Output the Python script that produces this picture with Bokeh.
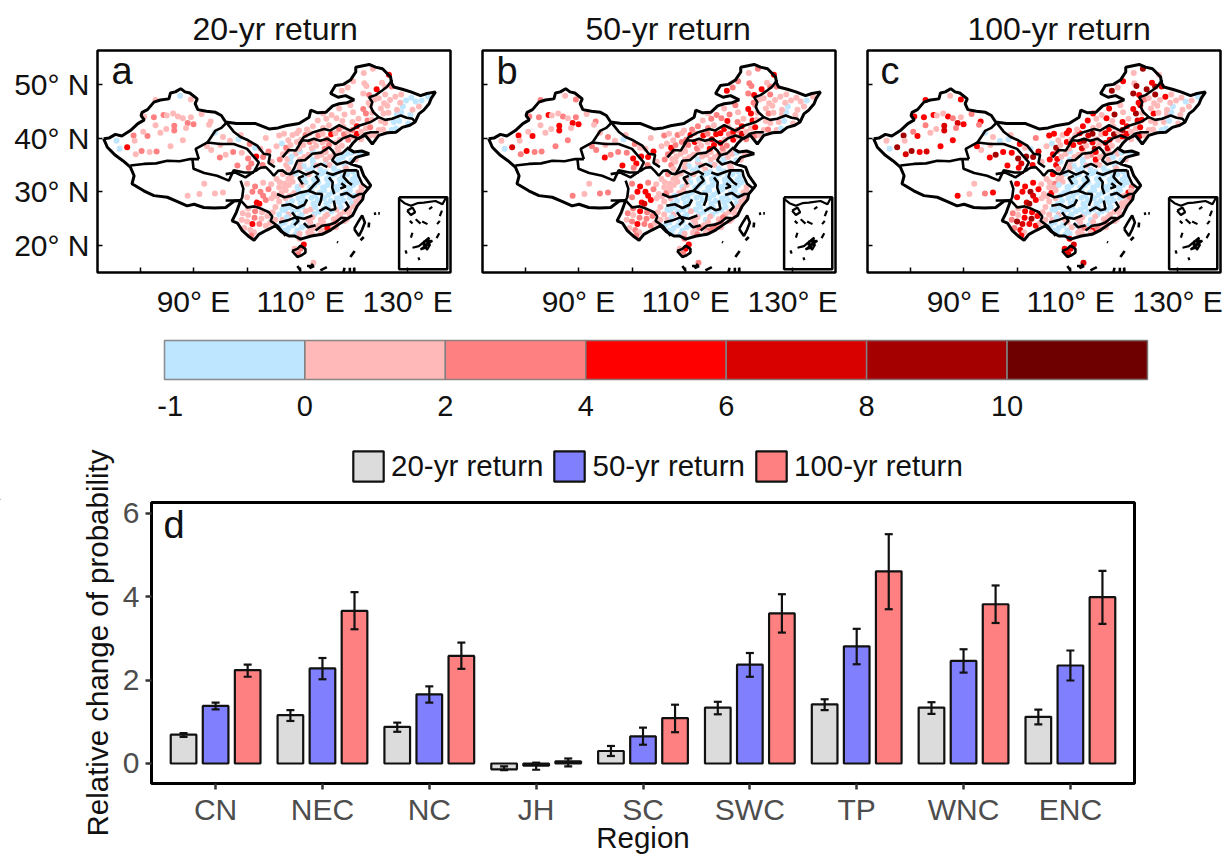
from bokeh.embed import file_html
from bokeh.resources import INLINE
from bokeh.layouts import column, row
from bokeh.models import ColumnDataSource, FixedTicker, Range1d, Label, Legend, LegendItem, Whisker, TeeHead
from bokeh.plotting import figure

FONT = "Liberation Sans"

# ------------------------------------------------------------ bar panel values
regions = ["CN", "NEC", "NC", "JH", "SC", "SWC", "TP", "WNC", "ENC"]
return_periods = ["20-yr return", "50-yr return", "100-yr return"]
bar_20 = [0.69, 1.16, 0.88, -0.14, 0.30, 1.34, 1.42, 1.34, 1.12]
low_20 = [0.64, 1.02, 0.76, -0.16, 0.18, 1.18, 1.28, 1.19, 0.94]
high_20 = [0.73, 1.28, 0.98, -0.07, 0.42, 1.48, 1.54, 1.47, 1.29]
bar_50 = [1.38, 2.28, 1.66, -0.05, 0.65, 2.37, 2.81, 2.46, 2.35]
low_50 = [1.30, 2.02, 1.46, -0.15, 0.45, 2.08, 2.38, 2.18, 1.99]
high_50 = [1.46, 2.53, 1.85, 0.02, 0.86, 2.65, 3.23, 2.74, 2.71]
bar_100 = [2.24, 3.66, 2.58, 0.05, 1.09, 3.60, 4.61, 3.82, 3.99]
low_100 = [2.08, 3.22, 2.27, -0.07, 0.75, 3.14, 3.70, 3.37, 3.35]
high_100 = [2.37, 4.11, 2.90, 0.12, 1.41, 4.06, 5.50, 4.27, 4.62]

# ------------------------------------------------------------ colour key
key_labels = ["-1", "0", "2", "4", "6", "8", "10"]
key_colors = ["#BFE6FF", "#FFB9B9", "#FF8080", "#FF0000", "#D90000", "#A50000", "#6E0000"]

# ------------------------------------------------------------ map lines (lon, lat)
outline = [(73.2,39.9),(74.2,40.0),(75.4,40.7),(76.6,40.4),(78.2,41.4),(79.6,42.7),(80.8,43.4),(80.2,44.2),(80.4,44.8),(81.4,45.3),(82.6,46.7),(83.8,47.1),(85.4,47.3),(85.7,48.4),(86.6,48.6),(87.6,49.2),(88.4,48.6),(89.3,48.4),(90.7,47.3),(90.3,46.4),(90.8,45.3),(92.4,45.0),(94.1,44.8),(95.2,44.2),(96,43),(98.0,42.7),(101.6,42.7),(104.1,41.7),(105.8,41.9),(107.2,42.3),(109.7,42.7),(111.6,43.9),(111.9,45.2),(113.2,44.7),(114.7,44.8),(116,46),(117.2,46.4),(118.7,46.6),(120,47.1),(118.4,47.9),(117,47.6),(115.6,48.3),(116.5,49.8),(118,50),(119.3,50.8),(120.3,52.3),(120.3,53.2),(122.8,53.7),(124,53.2),(125.3,52.9),(126.8,51.4),(127.0,50.2),(127.4,49.5),(129,49.1),(130.6,48.6),(132.4,47.9),(133.6,48.3),(135.2,48.6),(134.4,47.4),(134,46.4),(133,45.2),(132.1,44.5),(131.4,43),(130.4,42.4),(129,42),(127.8,41.1),(126.2,41),(124.6,40.5),(123.4,38.9),(122.1,40.5),(120.6,39.9),(119.8,39.1),(119,38),(120,37.4),(121.4,37.6),(122.8,37.1),(121,36.6),(120.3,36.4),(119.3,35.2),(121.2,34.6),(121.8,33),(123.1,31.2),(122.8,30.8),(121.8,29.6),(121.6,28.6),(120.6,27.4),(119.7,25.6),(118.4,24.8),(117.2,24),(115.6,22.9),(114,22.1),(112,21.8),(110,21.2),(108.9,21.8),(107.8,21.8),(106.4,22.6),(105.3,23.7),(103.7,22.9),(102.2,22.1),(101.3,21),(100.2,21.8),(99.1,22.8),(98.2,24.2),(97.2,24.6),(98.0,26.2),(98.8,28.4),(97.6,28.3),(96,27.1),(93.9,27.0),(91.9,27.1),(90.1,27.7),(88.8,27.4),(87,28.2),(85.1,29),(82.6,29.3),(80.7,30.2),(78.5,31.5),(78.9,33),(78.2,34.6),(76.8,35.8),(75.4,36.8),(73.9,38.3),(73.2,39.9)]
basin_lines = [
    [(78.2,34.9),(80.7,35.2),(83,35.3),(85.1,35.8),(87.4,35.7),(89.4,36.1),(91,36.1)],
    [(89.8,36.1),(90,34.3),(92,33.5),(94.4,33),(96.6,32.1),(97.5,34),(99.5,33.6),(101.3,33.6)],
    [(91,36.1),(90.4,38),(92.6,39.2),(95,38.9),(97.5,38.9),(100,38),(101.2,36.6),(102.2,35.5),(101.3,33.7),(101.6,34.4),(101.9,33.8)],
    [(92.6,39.2),(94.1,41.4),(95.2,41.9),(96.3,43)],
    [(96.3,42.7),(97.5,41.2),(98.8,40.2),(100.2,39.6),(101.9,38.6),(103.1,37.1),(104.3,36.9),(104,35.4),(105.2,34.6)],
    [(109.7,38.9),(110.6,40.2),(112.4,41.1),(114.4,41.7),(115.5,41.4),(117.2,42.4),(119.3,41.4),(120.9,42.3),(123.1,43),(124.6,43.9),(123.6,44.8),(123.1,45.8),(123.4,46.7),(122.8,47.6),(124,48),(125.3,48.9),(126.2,49.6),(127.1,50.8)],
    [(124.6,43.9),(125.8,43.4),(127.1,43.6),(128.7,44.2),(129.8,43.8),(130.9,43.6),(131.4,43)],
    [(106.6,36.4),(107.8,37.8),(109.1,37.7),(110.3,39.6),(111.4,39.5),(112.5,39.9),(113.6,39.5),(115,39.9),(116.5,38.9),(117.8,39.9),(119.3,40.5),(120.9,39.9),(122,40.8),(123.1,41.1),(124.6,41.1)],
    [(108.1,33.3),(108.8,34.4),(109.4,35.8),(110.8,35.9),(112.2,37.1),(113.8,37.3),(115.3,38.3),(116,37.6),(116.5,36.8),(117.8,37.2),(119,38.3)],
    [(116.5,36.8),(115.9,35.9),(116.8,35.1),(118.4,35.6),(119.3,35.2),(120,35.9)],
    [(96,33.3),(97.8,33.6),(99.7,32.7),(101.6,34),(102.6,34.5),(103.5,34.6),(104.3,33.8),(105,33),(105.8,33.9),(106.6,34),(107.4,33.4),(108.1,33.3),(109.6,33.9),(111,33.2),(112.4,33.8),(113.4,33.2)],
    [(114.8,33.6),(116,33.2),(117.6,33.8),(118.4,34),(120.6,34)],
    [(120.6,34),(120.8,33),(121.5,31.5),(122.8,30.5)],
    [(98.8,32.1),(99.3,30.6),(99.1,29),(98.8,28.4)],
    [(96,28.4),(98.8,28.4),(100,27.1),(101.4,27.3),(102.8,26.8),(104.1,26.2),(104.7,25.4),(104.4,24.6),(105.8,23.6),(107.2,21.8)],
    [(105.6,29.6),(107,29),(108.4,29.3),(110,29.9),(111.5,30.2),(112.8,29.7),(114,29.6),(113.8,28.4),(113.4,27.4)],
    [(111.5,30.2),(112.6,31.4),(113.4,32.1),(112.8,33.0)],
    [(106,24.3),(107.6,24.7),(109.1,25.3),(110.6,25),(112.2,25.6)],
    [(113.5,26.4),(114.7,27.1),(115.6,26.6),(116.5,26.8),(116.2,28.4)],
    [(116.3,29.6),(115.9,30.8),(116.0,31.8),(115.3,32.7)],
    [(106.4,27.4),(108.0,27.7),(109.4,27.0),(110.7,27.6),(111.2,28.6)],
    [(112.8,22.8),(114,23.7),(115.4,23.9),(116.5,24.3),(117.6,25.2),(118.6,25.1)],
    [(117.4,29.4),(118.6,29.8),(119.8,29.0),(121.0,29.6),(121.8,29.6)],
    [(118.4,34),(118.0,32.8),(118.9,31.8),(119.6,31.3)],
    [(110.6,24.2),(111.4,23.4),(112.8,23.8)],
    [(118.4,28.2),(119.0,27.2),(118.2,26.4)],
    [(117.6,31.6),(118.4,31.0),(117.4,30.6)],
    [(110.4,31.4),(109.6,32.6),(110.6,33.0)],
    [(108.4,26.2),(109.6,24.6),(108.8,23.8)],
    [(112.4,34.6),(113.8,35.2),(115.0,34.6)],
    [(108.4,19),(109.4,19.4),(110,20),(110.9,19.4),(110.9,18.7),(110.2,18.2),(109.4,17.9),(108.4,19)],
    [(120,23.1),(120.8,24.5),(121.5,25.6),(122,24.3),(121.5,23),(120.9,21.8),(120,23.1)],
    [(122.8,24.3),(122.7,23.4)],[(123.7,25.9),(124.1,26)],[(124.5,26),(124.8,26)],
    [(121.2,21),(121.8,21.6)],[(119.3,17.9),(120.1,19)],[(116.8,20.7),(117,20.6)],
    [(109.4,16.2),(110,15.3)],[(111.2,16.2),(112.5,16.2),(111.7,15.8),(112.3,16.6)],[(113.7,15.4),(114.9,16)],
    [(118.0,15.0),(118.2,15.9)],[(119.2,15.0),(119.2,15.9)],[(120.0,15.0),(120.0,15.9)],
]
inset_lines = [
    [(128.4,28.7),(129.4,27.9),(130.6,27.4),(131.8,27.9),(133,28),(135.2,28.3),(136.5,27.7),(137.2,29)],
    [(129.9,26.5),(130.9,27.1),(131.4,26.2),(130.6,25.7),(129.9,26.5)],
    [(130.4,24.6),(130.9,24.1)],[(131.5,24.9),(132.4,24.1)],[(132.7,24.5),(133.7,24)],
    [(135.5,24),(136,24.6)],[(136.4,26.5),(136,25.5)],[(130.9,22.4),(130.6,21.5)],
    [(129.6,19.1),(129.8,18.5)],[(135.9,22.3),(135.4,21.4)],
    [(130.9,19.6),(132.1,19.9),(134,21.5),(133.4,19.6),(132.4,19.3),(134.6,20.9),(133,20.8),(133.6,19.2),(134.2,20.2),(132.8,20.2)],
    [(132,17.8),(132.2,17.3)],[(134,26.8),(134.6,27.2)],
]
inset_box_lon = [128.4, 137.4, 137.4, 128.4, 128.4]
inset_box_lat = [29.0, 29.0, 15.6, 15.6, 29.0]

# ------------------------------------------------------------ stations: lon, lat, class in panels a, b, c
stations_xinjiang = [
 (82.9,47.1,1,2,3),(84.4,44.3,2,3,3),(80.8,44.0,1,2,3),(82.6,43.9,2,2,3),(82.9,42.4,1,1,2),(78.8,40.5,2,3,5),
 (77.6,38.3,3,4,5),(75.6,39.5,0,1,1),(80.3,37.6,2,3,5),(81.8,37.4,1,2,3),(83.1,37.5,2,2,4),(85.7,38.5,1,2,3),
 (81.4,40.4,2,3,3),(84.9,41.7,1,1,1),(86.4,42.3,2,3,4),(86.4,41.4,2,3,4),(87.1,44.0,1,2,3),(88.0,43.7,1,1,2),
 (88.9,42.8,2,3,4),(90.0,42.6,2,3,3),(88.6,41.9,1,1,2),(89.5,43.9,1,2,1),(85.0,44.2,1,1,1),(88.0,39.6,1,2,3),
 (93.2,43.1,1,2,3),(92.9,42.5,1,1,2),(89.5,47.2,1,2,3),(87.5,47.9,0,1,1),(80.6,41.2,1,1,2),(83.8,41.0,1,1,1),
 (79.2,37.0,1,2,4),(86.2,44.6,1,1,1),(91.5,44.5,1,1,2),(76.2,38.0,0,0,0),(79.0,39.5,1,1,1),
]
stations_plateau = [
 (94.0,41.0,0,1,0),(95.5,40.2,1,2,1),(98.4,39.8,0,0,0),(100.5,38.9,2,2,3),(102.5,38.0,1,1,0),(104.0,37.5,2,3,4),
 (105.5,38.5,1,1,1),(103.0,36.5,2,3,5),(101.7,36.6,3,3,5),(100.2,36.2,2,3,5),(99.0,37.3,1,2,3),(97.4,37.4,2,2,3),
 (94.9,36.4,2,3,3),(93.3,37.8,1,2,1),(96.0,36.9,1,2,5),(100.8,35.3,2,3,4),(102.9,35.0,2,2,3),(104.6,35.6,1,1,1),
 (106.1,36.0,2,2,3),(100.3,34.5,2,2,3),(98.2,34.9,2,3,3),(101.5,38.2,0,1,1),(96.8,39.5,1,1,0),(92.5,38.5,1,2,3),
 (95.0,38.7,1,1,1),(98.8,40.6,1,1,1),(106.0,40.5,1,2,3),(103.5,40.0,1,1,2),(106.5,39.0,0,1,0),(88.9,29.3,1,2,3),
 (91.1,29.6,1,1,1),(94.0,29.7,1,2,2),(95.5,29.9,1,2,3),(92.0,31.5,1,1,1),
]
stations_southwest = [
 (100.0,31.5,1,2,3),(101.5,31.0,2,3,3),(103.0,31.7,1,2,3),(104.5,31.4,1,1,1),(105.5,32.4,1,1,1),(102.5,30.0,2,3,5),
 (101.0,30.0,2,3,3),(100.0,29.0,1,2,3),(103.0,29.3,2,3,4),(104.0,30.5,2,2,3),(105.0,29.6,1,1,1),(106.0,30.8,1,1,1),
 (107.0,31.5,1,1,2),(101.8,28.0,3,3,4),(102.3,27.8,3,4,5),(103.5,28.5,2,3,3),(104.6,28.8,1,1,1),(100.2,26.9,1,2,1),
 (101.5,26.4,2,3,3),(102.8,26.2,1,2,3),(99.2,26.0,1,2,2),(100.2,25.7,1,1,1),(101.4,25.2,2,2,3),(102.7,25.0,1,2,5),
 (103.8,25.5,1,2,3),(104.8,26.2,1,1,1),(99.0,24.8,1,1,2),(100.0,24.5,1,2,5),(101.0,24.0,3,3,4),(102.3,24.0,2,2,3),
 (103.5,23.7,1,2,3),(104.3,24.2,1,1,1),(100.6,22.9,1,2,3),(101.3,22.5,1,1,1),(99.5,23.3,1,1,2),(100.8,21.9,2,2,3),
 (105.3,24.8,1,1,1),(106.0,25.8,0,1,1),(106.6,26.7,0,0,0),(107.6,27.2,0,0,1),
]
stations_yangtze = [
 (107.3,35.0,1,2,3),(108.1,35.6,0,1,0),(109.9,35.2,1,1,1),(110.6,34.8,0,0,0),(112.3,35.5,0,1,0),(113.0,34.9,1,1,1),(114.7,35.4,0,0,1),(115.4,35.0,1,1,1),(117.0,35.6,0,0,0),(118.3,34.8,0,1,0),
 (107.7,34.3,1,1,2),(109.0,33.9,0,0,0),(109.8,34.5,1,1,1),(111.4,34.0,0,0,0),(112.2,34.5,0,0,0),(113.7,34.1,0,1,0),(114.6,33.7,0,0,0),(116.2,34.4,0,0,0),(117.1,33.8,0,0,0),(118.5,34.4,1,1,1),(119.8,33.8,0,0,0),
 (106.7,33.3,1,2,3),(108.3,32.9,1,1,1),(109.1,33.4,0,1,0),(110.7,32.9,0,0,0),(111.5,33.3,1,1,0),(113.1,32.8,0,0,0),(113.9,33.4,0,0,0),(115.5,32.9,0,0,0),(116.3,33.3,0,0,0),(117.9,32.9,0,0,0),(118.7,33.3,0,0,0),(120.2,32.8,0,0,0),
 (106.1,31.8,1,1,1),(107.7,32.4,1,1,1),(108.5,31.9,1,1,1),(110.1,32.3,0,1,0),(110.9,31.8,0,0,0),(112.5,32.3,0,0,0),(113.3,31.8,0,0,0),(114.9,32.4,0,0,0),(115.7,31.9,0,0,0),(117.3,32.3,0,0,0),(118.1,31.9,0,0,0),(119.7,32.3,0,0,0),(120.5,31.8,0,0,0),
 (107.0,30.8,1,1,1),(107.8,31.3,1,1,0),(109.4,30.9,0,0,0),(110.2,31.3,1,1,0),(111.8,30.8,0,0,0),(112.6,31.3,0,0,0),(114.2,30.8,0,0,0),(115.0,31.3,0,0,0),(116.6,30.9,0,0,0),(117.4,31.4,0,0,0),(119.0,30.8,0,0,0),(119.8,31.3,0,0,0),(121.4,30.9,1,1,2),
 (106.4,29.8,1,2,3),(107.2,30.3,1,1,1),(108.8,29.8,1,1,0),(109.6,30.4,0,1,0),(111.2,29.9,0,0,0),(112.0,30.3,0,0,0),(113.6,29.9,0,0,0),(114.4,30.3,0,0,0),(116.0,29.9,0,0,0),(116.8,30.4,0,0,0),(118.4,29.8,0,0,0),(119.2,30.3,0,0,0),(120.8,29.9,1,1,3),(121.3,30.2,1,1,1),
 (105.6,29.2,1,1,1),(107.2,28.8,1,1,1),(108.0,29.3,1,0,0),(109.6,28.8,0,0,0),(110.4,29.3,0,0,0),(112.0,28.9,0,0,0),(112.8,29.3,0,0,0),(114.4,28.8,0,0,0),(115.2,29.4,0,0,0),(116.8,28.8,0,0,0),(117.6,29.3,0,0,0),(119.2,28.9,0,0,0),(120.0,29.3,0,0,1),(121.0,28.9,1,1,2),
 (106.0,28.2,1,1,1),(107.6,27.8,0,0,0),(108.4,28.3,0,0,0),(110.0,27.9,0,0,0),(110.8,28.3,0,0,0),(112.4,27.8,0,0,0),(113.2,28.4,0,0,0),(114.8,27.8,0,0,0),(115.6,28.3,0,0,0),(117.2,28.0,0,0,0),(118.0,28.4,0,0,0),(119.6,27.9,0,0,1),(120.4,28.2,1,1,1),
 (105.3,27.2,1,1,1),(107.1,26.6,0,0,0),(107.9,27.2,0,0,0),(109.5,26.7,0,0,0),(110.3,27.3,0,0,0),(111.9,26.7,1,0,0),(112.7,27.2,0,0,0),(114.3,26.8,0,0,0),(115.1,27.2,0,0,0),(116.7,26.7,1,0,0),(117.5,27.2,0,0,0),(119.1,26.8,1,1,1),(119.9,27.3,1,1,1),
 (107.8,25.8,1,1,1),(108.6,26.3,0,0,0),(110.2,25.8,0,0,0),(111.0,26.4,1,1,0),(112.6,25.9,0,0,0),(113.4,26.3,0,0,0),(115.0,25.8,1,0,0),(115.8,26.4,0,0,0),(117.4,25.8,1,1,1),(118.2,26.3,1,1,1),(119.2,25.9,1,1,1),
 (106.6,24.8,1,1,1),(107.4,25.3,0,0,0),(109.0,24.8,0,0,1),(109.8,25.4,0,0,0),(111.4,24.9,1,1,1),(112.2,25.3,1,1,1),(113.8,24.8,1,0,0),(114.6,25.4,1,1,1),(116.2,24.9,1,1,1),(117.0,25.3,1,2,1),(118.6,24.9,1,1,1),
 (106.2,23.8,0,0,0),(107.0,24.3,0,0,0),(108.6,23.8,0,0,0),(109.4,24.4,0,0,1),(111.0,23.8,0,0,0),(111.8,24.3,1,1,1),(113.4,23.8,1,1,0),(114.2,24.4,1,1,1),(115.8,23.8,1,2,1),(116.6,24.3,2,2,2),(118.2,24.6,1,1,1),
 (107.0,22.8,0,0,0),(107.8,23.3,0,0,0),(109.4,22.8,0,0,0),(110.2,23.4,0,0,1),(111.8,22.8,1,1,1),(112.6,23.3,1,2,2),(114.2,22.8,1,2,3),(115.0,23.3,3,2,2),(116.6,23.4,1,1,1),
 (107.4,22.4,0,0,0),(109.0,22.0,0,0,0),(109.8,22.2,1,1,0),(111.4,22.4,1,1,1),(112.2,22.1,1,2,1),(113.8,22.5,1,1,1),
 (109.8,21.3,1,2,3),(110.6,20.2,3,3,4),(110.0,19.4,2,3,3),(109.2,18.9,1,2,3),(108.9,19.4,1,1,3),(109.6,18.4,2,2,4),(112.4,16.8,1,2,4),
]
stations_north = [
 (106.7,37.0,1,2,3),(107.5,37.6,1,2,2),(109.1,37.1,1,1,1),(109.9,37.5,0,1,0),(111.5,36.9,1,1,1),(112.3,37.6,0,1,1),(113.9,36.9,1,1,2),(114.7,37.4,1,1,3),(116.3,37.0,1,2,1),(117.1,37.5,1,1,1),(118.7,37.1,0,1,1),(119.5,37.3,0,0,0),(121.1,37.2,0,1,0),
 (107.5,36.1,1,1,3),(108.3,36.6,0,1,1),(109.9,36.0,1,1,0),(110.7,36.5,1,1,1),(112.3,36.0,0,0,0),(113.1,36.6,1,1,1),(114.7,36.0,1,1,3),(115.5,36.5,1,1,1),(117.1,36.0,0,0,1),(117.9,36.5,0,1,0),(119.5,35.9,0,0,0),(120.3,36.0,1,1,1),
 (107.3,38.2,2,3,5),(108.1,38.7,1,2,1),(109.7,38.0,1,1,1),(110.5,38.7,1,2,3),(112.1,38.1,1,2,4),(112.9,38.6,1,1,1),(114.5,38.0,2,3,5),(115.3,38.7,2,3,1),(116.9,38.1,1,2,4),(117.7,38.6,1,2,1),
 (107.7,39.6,1,1,1),(109.3,39.3,1,2,3),(110.1,39.7,1,2,1),(111.7,39.3,2,3,3),(112.5,39.5,1,1,5),(114.1,39.2,1,1,3),(114.9,39.8,2,4,1),(116.5,39.1,1,3,4),(117.3,39.7,1,1,3),(118.9,39.7,2,3,1),(119.7,40.3,1,1,3),(121.3,39.8,1,2,1),
 (106.9,40.8,1,1,3),(108.5,40.6,1,2,1),(109.3,40.9,1,1,3),(110.9,40.6,2,3,1),(111.7,40.9,1,1,3),(113.3,40.5,2,3,4),(114.1,40.8,1,2,5),(115.7,40.7,3,3,1),(116.5,40.9,1,3,3),(118.1,40.7,2,2,5),(118.9,41.2,1,3,1),(120.5,40.8,3,4,3),(121.3,41.2,1,1,1),(122.9,40.4,1,2,4),(123.8,40.6,1,1,1),
 (109.7,41.4,1,1,3),(111.2,41.6,1,2,1),(112.3,42.2,1,2,3),(114.2,41.9,1,2,1),(115.3,42.4,1,1,1),(117.2,41.7,2,3,3),(118.0,42.1,1,1,1),(119.7,41.5,2,2,5),(120.5,42.2,3,3,3),(122.2,41.8,1,1,1),(123.0,42.0,2,3,3),(124.6,41.5,1,1,1),(125.4,41.6,1,2,1),(127.0,41.5,0,1,0),(127.8,41.8,0,0,0),
]
stations_northeast = [
 (113.2,43.3,1,1,3),(114.8,43.6,1,2,1),(116.7,43.7,1,2,3),(117.8,43.2,1,3,1),(119.7,43.0,1,2,3),(120.8,43.6,1,1,1),(122.5,43.3,2,3,4),(123.3,43.4,1,1,3),(125.0,43.2,1,1,1),(125.8,42.8,1,1,1),(127.4,43.0,0,1,1),(128.4,43.2,0,0,0),(130.1,42.7,0,1,1),
 (114.2,44.6,1,1,3),(115.8,44.3,1,2,1),(118.2,44.4,1,2,5),(119.8,44.8,1,1,1),(122.2,44.6,2,3,5),(123.4,44.7,1,1,1),(125.5,44.6,1,2,3),(126.4,44.7,1,1,1),(128.0,44.5,0,1,1),(128.8,44.8,0,0,0),(130.5,44.3,0,1,1),
 (117.2,45.5,1,1,3),(119.3,46.1,1,2,1),(121.7,45.4,2,3,3),(123.0,46.1,1,1,4),(125.0,45.5,1,1,1),(126.2,46.0,1,1,1),(128.0,45.3,1,1,1),(129.1,45.9,0,0,0),(130.9,45.3,1,1,1),(132.1,45.9,1,1,1),
 (122.7,46.6,1,2,3),(123.8,47.2,1,1,2),(125.6,46.5,1,1,1),(126.7,47.1,1,1,1),(128.6,46.6,1,1,1),(129.7,47.0,0,1,1),(131.5,46.8,0,1,0),(132.6,47.0,0,0,1),(133.8,47.7,0,1,0),
 (117.7,48.8,1,3,5),(118.8,49.4,1,2,1),(121.7,48.3,1,2,5),(122.8,48.0,2,3,3),(124.6,47.4,1,1,1),(125.8,48.1,1,2,5),(127.7,47.7,1,1,3),(128.8,48.1,1,1,1),(130.7,47.5,0,1,1),
 (119.8,50.6,1,2,3),(121.9,50.2,1,2,1),(122.3,49.7,1,2,5),(124.2,49.1,3,3,5),(125.8,49.6,1,2,5),(125.2,50.3,1,1,3),(126.5,51.8,3,3,1),(123.5,52.9,1,2,5),(121.8,52.1,1,1,1),(127.0,49.6,2,2,4),
]
all_stations = stations_xinjiang + stations_plateau + stations_southwest + stations_yangtze + stations_north + stations_northeast
st_lon = [s[0] for s in all_stations]
st_lat = [s[1] for s in all_stations]

# ------------------------------------------------------------ maps
def map_panel(title, letter, panel_col, left, right, width, show_lat_labels, letter_x, title_offset):
    p = figure(width=width, height=320, output_backend="svg", toolbar_location=None,
               x_range=Range1d(72.06, 138.0), y_range=Range1d(15.0, 56.3), frame_align=False,
               min_border_left=left, min_border_right=right, min_border_top=50, min_border_bottom=48,
               title=title)
    p.title.text_font = FONT
    p.title.text_font_size = "32px"
    p.title.text_font_style = "normal"
    p.title.align = "left"
    p.title.offset = title_offset
    p.title.text_color = "#111111"
    p.title.standoff = 7
    p.grid.visible = False
    p.outline_line_color = "black"
    p.outline_line_width = 2.5
    p.xaxis.ticker = FixedTicker(ticks=[80, 90, 100, 110, 120, 130])
    p.xaxis.major_label_overrides = {80: "", 90: "90° E", 100: "", 110: "110° E", 120: "", 130: "130° E"}
    p.yaxis.ticker = FixedTicker(ticks=[20, 30, 40, 50])
    if show_lat_labels:
        p.yaxis.major_label_overrides = {20: "20° N", 30: "30° N", 40: "40° N", 50: "50° N"}
    else:
        p.yaxis.major_label_overrides = {20: "", 30: "", 40: "", 50: ""}
    for ax in (p.xaxis, p.yaxis):
        ax.axis_line_color = None
        ax.major_tick_in = 5
        ax.major_tick_out = 0
        ax.minor_tick_line_color = None
        ax.major_tick_line_color = "black"
        ax.major_tick_line_width = 1.5
        ax.major_label_text_font = FONT
        ax.major_label_text_font_size = "30px"
        ax.major_label_text_color = "#111111"
    p.xaxis.major_label_standoff = 12
    p.yaxis.major_label_standoff = 8
    colors = [key_colors[s[panel_col]] for s in all_stations]
    src = ColumnDataSource(dict(lon=st_lon, lat=st_lat, color=colors))
    p.scatter("lon", "lat", source=src, size=6, fill_color="color", line_color=None)
    p.line([q[0] for q in outline], [q[1] for q in outline], line_color="black", line_width=3)
    p.multi_line([[q[0] for q in l] for l in basin_lines], [[q[1] for q in l] for l in basin_lines],
                 line_color="black", line_width=2.6)
    p.multi_line([[q[0] for q in l] for l in inset_lines], [[q[1] for q in l] for l in inset_lines],
                 line_color="black", line_width=2.2)
    p.line(inset_box_lon, inset_box_lat, line_color="black", line_width=2.5)
    p.add_layout(Label(x=letter_x, y=181, x_units="screen", y_units="screen", text=letter,
                       text_font=FONT, text_font_size="38px", text_color="#111111"))
    return p

map_a = map_panel("20-yr return", "a", 2, 97, 15, 465, True, 14, 95)
map_b = map_panel("50-yr return", "b", 3, 17, 15, 385, False, 14, 103)
map_c = map_panel("100-yr return", "c", 4, 17, 10, 380, False, 13, 100)

# ------------------------------------------------------------ colour key strip
key = figure(width=1230, height=110, output_backend="svg", toolbar_location=None, frame_align=False,
             x_range=Range1d(0, 7), y_range=Range1d(0, 1),
             min_border_left=164, min_border_right=83, min_border_top=20, min_border_bottom=51)
key_src = ColumnDataSource(dict(left=list(range(7)), right=list(range(1, 8)), color=key_colors))
key.quad(left="left", right="right", bottom=0, top=1, source=key_src, fill_color="color",
         line_color="#808080", line_width=1.5)
key.grid.visible = False
key.outline_line_color = "#808080"
key.outline_line_width = 1.5
key.yaxis.visible = False
key.xaxis.ticker = FixedTicker(ticks=[0.04, 1, 2, 3, 4, 5, 6])
key.xaxis.major_label_overrides = dict(zip([0.04, 1, 2, 3, 4, 5, 6], key_labels))
key.xaxis.axis_line_color = None
key.xaxis.major_tick_line_color = None
key.xaxis.minor_tick_line_color = None
key.xaxis.major_label_standoff = 10
key.xaxis.major_label_text_font = FONT
key.xaxis.major_label_text_font_size = "29px"
key.xaxis.major_label_text_color = "#111111"

# ------------------------------------------------------------ legend strip (sits behind the bar figure's top border)
series_colors = ["#DCDCDC", "#8080FF", "#FF8080"]
leg_fig = figure(width=1230, height=70, output_backend="svg", toolbar_location=None, frame_align=False,
                 x_range=Range1d(0, 1), y_range=Range1d(0, 1),
                 min_border_left=0, min_border_right=0, min_border_top=0, min_border_bottom=0)
leg_fig.axis.visible = False
leg_fig.grid.visible = False
leg_fig.outline_line_color = None
items = []
for name, col in zip(return_periods, series_colors):
    r = leg_fig.vbar(x=[-5], top=[0], width=0.1, fill_color=col, line_color="#111111", line_width=2.2)
    items.append(LegendItem(label=name, renderers=[r]))
legend = Legend(items=items, orientation="horizontal", location=(349, 15), background_fill_alpha=0,
                border_line_color=None, glyph_width=38, glyph_height=38, label_text_font=FONT,
                label_text_font_size="29.5px", label_text_color="#111111", spacing=7, padding=0,
                margin=0, label_standoff=4)
leg_fig.add_layout(legend, "center")

# ------------------------------------------------------------ bars
bars = figure(width=1230, height=426, output_backend="svg", toolbar_location=None, frame_align=False,
              x_range=Range1d(0.4, 9.6), y_range=Range1d(-0.48, 6.26),
              min_border_left=151, min_border_right=96, min_border_top=72, min_border_bottom=73,
              margin=(-70, 0, 0, 0))
bars.border_fill_color = None
bars.background_fill_color = None
centers = [i + 1 for i in range(len(regions))]
series = [(bar_20, low_20, high_20, -0.3), (bar_50, low_50, high_50, 0.0), (bar_100, low_100, high_100, 0.3)]
for (vals, lows, highs, off), col in zip(series, series_colors):
    xs = [c + off for c in centers]
    src = ColumnDataSource(dict(x=xs, top=vals, low=lows, high=highs))
    bars.vbar(x="x", top="top", bottom=0, width=0.24, source=src, fill_color=col,
              line_color="#111111", line_width=2.2)
    w = Whisker(base="x", lower="low", upper="high", source=src, dimension="height", level="overlay",
                line_color="#111111", line_width=2.2,
                upper_head=TeeHead(size=8, line_color="#111111", line_width=2.2),
                lower_head=TeeHead(size=8, line_color="#111111", line_width=2.2))
    bars.add_layout(w)
bars.grid.visible = False
bars.outline_line_color = "black"
bars.outline_line_width = 3
bars.xaxis.ticker = FixedTicker(ticks=centers)
bars.xaxis.major_label_overrides = dict(zip(centers, regions))
bars.yaxis.ticker = FixedTicker(ticks=[0, 2, 4, 6])
for ax in (bars.xaxis, bars.yaxis):
    ax.axis_line_color = None
    ax.major_tick_in = 0
    ax.major_tick_out = 6
    ax.minor_tick_line_color = None
    ax.major_tick_line_color = "#333333"
    ax.major_tick_line_width = 2.5
    ax.major_label_text_font = FONT
    ax.major_label_text_font_size = "30px"
    ax.major_label_text_color = "#4D4D4D"
    ax.axis_label_text_font = FONT
    ax.axis_label_text_font_size = "29.5px"
    ax.axis_label_text_font_style = "normal"
    ax.axis_label_text_color = "#111111"
bars.xaxis.major_label_standoff = 3
bars.yaxis.major_label_standoff = 6
bars.xaxis.axis_label = "Region"
bars.xaxis.axis_label_standoff = -8
bars.yaxis.axis_label = "Relative change of probability"
bars.yaxis.axis_label_standoff = 6
bars.add_layout(Label(x=12, y=238, x_units="screen", y_units="screen", text="d",
                      text_font=FONT, text_font_size="38px", text_color="#111111"))

page = column(row(map_a, map_b, map_c, spacing=0), key, leg_fig, bars, spacing=0)
open("out.html", "w").write(file_html(page, INLINE))
